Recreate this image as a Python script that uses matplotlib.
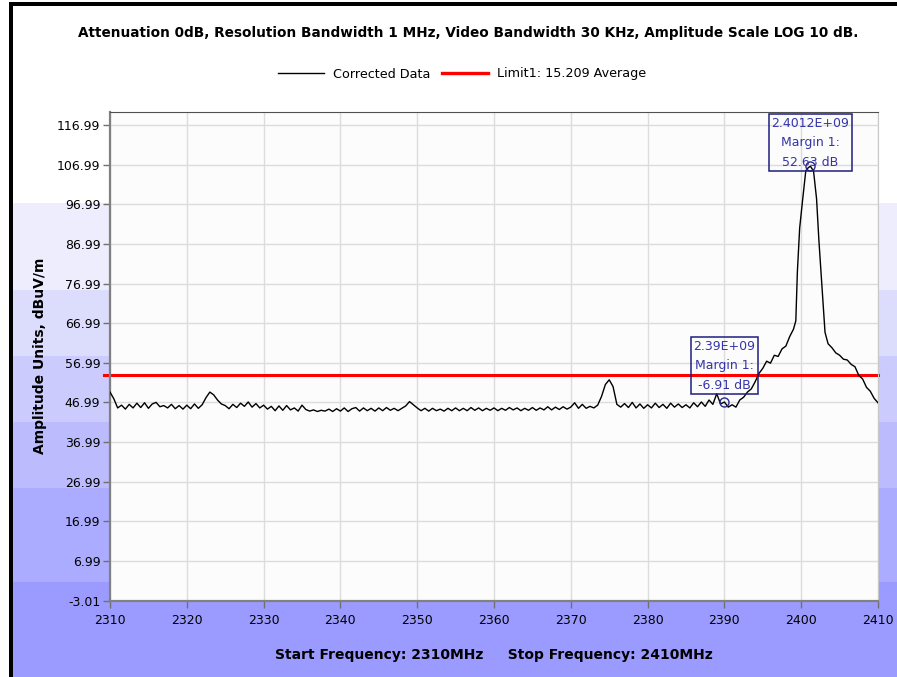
import matplotlib.pyplot as plt
from matplotlib.patches import Rectangle
from matplotlib.lines import Line2D

# sweep points (MHz) and measured level (dBuV/m)
freq = [
    2310.0, 2310.5, 2311.0, 2311.5, 2312.0, 2312.5, 2313.0, 2313.5, 2314.0, 2314.5,
    2315.0, 2315.5, 2316.0, 2316.5, 2317.0, 2317.5, 2318.0, 2318.5, 2319.0, 2319.5,
    2320.0, 2320.5, 2321.0, 2321.5, 2322.0, 2322.5, 2323.0, 2323.5, 2324.0, 2324.5,
    2325.0, 2325.5, 2326.0, 2326.5, 2327.0, 2327.5, 2328.0, 2328.5, 2329.0, 2329.5,
    2330.0, 2330.5, 2331.0, 2331.5, 2332.0, 2332.5, 2333.0, 2333.5, 2334.0, 2334.5,
    2335.0, 2335.5, 2336.0, 2336.5, 2337.0, 2337.5, 2338.0, 2338.5, 2339.0, 2339.5,
    2340.0, 2340.5, 2341.0, 2341.5, 2342.0, 2342.5, 2343.0, 2343.5, 2344.0, 2344.5,
    2345.0, 2345.5, 2346.0, 2346.5, 2347.0, 2347.5, 2348.0, 2348.5, 2349.0, 2349.5,
    2350.0, 2350.5, 2351.0, 2351.5, 2352.0, 2352.5, 2353.0, 2353.5, 2354.0, 2354.5,
    2355.0, 2355.5, 2356.0, 2356.5, 2357.0, 2357.5, 2358.0, 2358.5, 2359.0, 2359.5,
    2360.0, 2360.5, 2361.0, 2361.5, 2362.0, 2362.5, 2363.0, 2363.5, 2364.0, 2364.5,
    2365.0, 2365.5, 2366.0, 2366.5, 2367.0, 2367.5, 2368.0, 2368.5, 2369.0, 2369.5,
    2370.0, 2370.5, 2371.0, 2371.5, 2372.0, 2372.5, 2373.0, 2373.5, 2374.0, 2374.5,
    2375.0, 2375.5, 2376.0, 2376.5, 2377.0, 2377.5, 2378.0, 2378.5, 2379.0, 2379.5,
    2380.0, 2380.5, 2381.0, 2381.5, 2382.0, 2382.5, 2383.0, 2383.5, 2384.0, 2384.5,
    2385.0, 2385.5, 2386.0, 2386.5, 2387.0, 2387.5, 2388.0, 2388.5, 2389.0, 2389.5,
    2390.0, 2390.5, 2391.0, 2391.5, 2392.0, 2392.5, 2393.0, 2393.5, 2394.0, 2394.5,
    2395.0, 2395.5, 2396.0, 2396.5, 2397.0, 2397.5, 2398.0, 2398.5, 2399.0, 2399.3,
    2399.5, 2399.8, 2400.2, 2400.6, 2400.9, 2401.2, 2401.4, 2401.6, 2402.0, 2402.3,
    2402.7, 2403.1, 2403.5, 2404.0, 2404.5, 2405.0, 2405.5, 2406.0, 2406.5, 2407.0,
    2407.5, 2408.0, 2408.5, 2409.0, 2409.5, 2410.0,
]
level = [
    49.6, 47.9, 45.6, 46.3, 45.3, 46.5, 45.6, 46.8, 45.7, 46.9,
    45.5, 46.6, 47.0, 45.9, 46.2, 45.6, 46.5, 45.4, 46.2, 45.3,
    46.3, 45.4, 46.6, 45.5, 46.4, 48.2, 49.6, 48.9, 47.6, 46.6,
    46.2, 45.4, 46.5, 45.7, 46.8, 46.0, 47.1, 45.8, 46.7, 45.6,
    46.3, 45.3, 46.0, 44.9, 46.1, 45.0, 46.2, 45.1, 45.6, 44.8,
    46.3, 45.2, 44.8, 45.1, 44.7, 45.0, 44.8, 45.3, 44.7, 45.4,
    44.8, 45.6, 44.7, 45.4, 45.7, 44.8, 45.6, 44.9, 45.5, 44.8,
    45.6, 44.9, 45.7, 45.0, 45.5, 44.9, 45.5, 46.1, 47.2, 46.4,
    45.6, 44.9, 45.5, 44.8, 45.5, 44.9, 45.3, 44.8, 45.5, 44.9,
    45.6, 44.9, 45.5, 44.9, 45.7, 45.0, 45.6, 44.9, 45.5, 45.0,
    45.6, 44.9, 45.5, 45.0, 45.7, 45.1, 45.6, 44.9, 45.5, 45.0,
    45.7, 45.0, 45.6, 45.1, 45.9, 45.1, 45.8, 45.2, 45.9, 45.3,
    45.8, 46.9, 45.5, 46.5, 45.5, 46.0, 45.6, 46.3, 48.5, 51.5,
    52.7, 51.0, 46.5, 45.8, 46.7, 45.7, 47.0, 45.6, 46.6, 45.5,
    46.4, 45.6, 46.8, 45.7, 46.5, 45.5, 46.8, 45.8, 46.6, 45.7,
    46.4, 45.6, 46.9, 45.9, 47.1, 46.0, 47.6, 46.5, 49.2, 46.6,
    47.09, 45.8, 46.4, 45.8, 47.6, 48.3, 49.6, 50.4, 52.2, 54.3,
    55.6, 57.4, 56.9, 58.9, 58.6, 60.5, 61.2, 63.6, 65.5, 67.6,
    79.9, 91.0, 98.4, 105.5, 106.2, 106.63, 106.0, 105.5, 98.4, 88.0,
    76.5, 64.7, 61.8, 60.8, 59.5, 58.9, 57.9, 57.7, 56.6, 56.0,
    53.8, 52.9, 50.8, 49.8, 48.0, 46.9,
]

limit_level = 54.0
marker_freq = [2390.0, 2401.2]
marker_margin = [-6.91, 52.63]
marker_text = ["2.39E+09\nMargin 1:\n-6.91 dB", "2.4012E+09\nMargin 1:\n52.63 dB"]

yticks = [-3.01, 6.99, 16.99, 26.99, 36.99, 46.99, 56.99, 66.99, 76.99, 86.99, 96.99, 106.99, 116.99]
xticks = [2310, 2320, 2330, 2340, 2350, 2360, 2370, 2380, 2390, 2400, 2410]

W, H = 897, 677
fig = plt.figure(figsize=(W / 100, H / 100), dpi=100)
fig.patch.set_facecolor("white")

# banded lavender backdrop (pixel rows from the top)
bands = [(203, 290, "#ededfd"), (290, 356, "#dcdcfc"), (356, 422, "#cbcbfd"),
         (422, 488, "#bbbbfe"), (488, 582, "#ababff"), (582, 677, "#9b9bff")]
for top, bot, col in bands:
    fig.add_artist(Rectangle((13 / W, 1 - bot / H), 1, (bot - top) / H,
                             transform=fig.transFigure, color=col, zorder=-10, lw=0))
# black frame on left and top
fig.add_artist(Rectangle((9 / W, 0), 4 / W, 1 - 3 / H, transform=fig.transFigure,
                         color="black", zorder=-5, lw=0))
fig.add_artist(Rectangle((9 / W, 1 - 6 / H), 1, 4 / H, transform=fig.transFigure,
                         color="black", zorder=-5, lw=0))

ax = fig.add_axes([110 / W, 1 - 600.5 / H, 768 / W, 488.5 / H])
ax.set_facecolor("#fcfcfc")

ax.plot(freq, level, color="black", lw=1.0, zorder=3)
ax.axhline(limit_level, color="#ff0000", lw=2.2, zorder=2, clip_on=False,
           xmin=-0.008, xmax=1.0)

for f, m in zip(marker_freq, marker_margin):
    ax.plot([f], [limit_level + m], "o", ms=6.5, mfc="none", mec="#2a2a8c", mew=1.0, zorder=4)

# marker readouts, the upper one pushed down against the top edge
box_y = [56.3, 112.6]
for f, y, txt in zip(marker_freq, box_y, marker_text):
    ax.text(f, y, txt, ha="center", va="center", fontsize=9, color="#3535a8",
            linespacing=1.65, zorder=5,
            bbox=dict(boxstyle="square,pad=0.22", fc="none", ec="#1f1f80", lw=1.1))

ax.set_xlim(2310, 2410)
ax.set_ylim(-3.01, 120.3)
ax.set_xticks(xticks)
ax.set_yticks(yticks)
ax.set_xticklabels([str(t) for t in xticks])
ax.set_yticklabels([f"{t:.2f}" for t in yticks])
ax.tick_params(axis="both", direction="out", length=5, width=1, colors="#707070",
               labelcolor="black", labelsize=9, pad=2)
ax.tick_params(axis="x", pad=5)
ax.grid(True, color="#dcdcdc", lw=1)
ax.set_axisbelow(True)
for side in ("left", "bottom"):
    ax.spines[side].set_color("#808080")
    ax.spines[side].set_linewidth(1.6)
ax.spines["top"].set_color("#505050")
ax.spines["right"].set_color("#c8c8c8")

ax.set_ylabel("Amplitude Units, dBuV/m", fontsize=10, fontweight="bold", labelpad=7)
fig.text(494 / W, 1 - 655 / H, "Start Frequency: 2310MHz     Stop Frequency: 2410MHz",
         ha="center", va="center", fontsize=10, fontweight="bold")
fig.text(468 / W, 1 - 33 / H,
         "Attenuation 0dB, Resolution Bandwidth 1 MHz, Video Bandwidth 30 KHz, Amplitude Scale LOG 10 dB.",
         ha="center", va="center", fontsize=9.85, fontweight="bold")

handles = [Line2D([], [], color="black", lw=1.0),
           Line2D([], [], color="#ff0000", lw=2.4)]
fig.legend(handles, ["Corrected Data", "Limit1: 15.209 Average"], loc="center",
           bbox_to_anchor=(462 / W, 1 - 74 / H), ncol=2, frameon=False, fontsize=9.2,
           handlelength=3.6, columnspacing=0.9, handletextpad=0.7)

fig.savefig("out.png", dpi=100)
